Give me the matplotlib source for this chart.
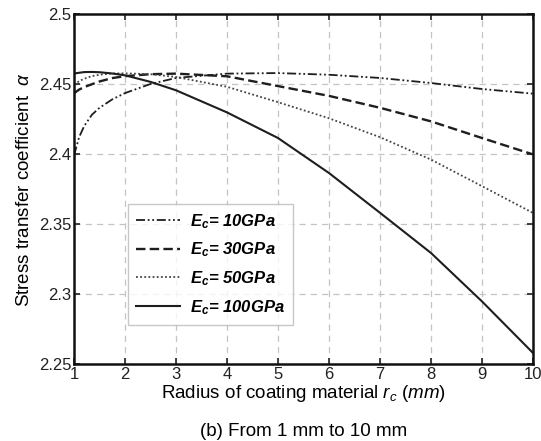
import matplotlib
matplotlib.use("Agg")
from matplotlib import pyplot as plt
from matplotlib.ticker import FormatStrFormatter

plt.rcParams['font.family'] = ['Liberation Sans', 'DejaVu Sans']
plt.rcParams['mathtext.fontset'] = 'custom'
plt.rcParams['mathtext.rm'] = 'Liberation Sans'
plt.rcParams['mathtext.it'] = 'Liberation Sans:italic'
plt.rcParams['mathtext.bf'] = 'Liberation Sans:bold:italic'

# Coating radius (mm) and stress transfer coefficient for each coating modulus
r_c = [1, 1.1, 1.2, 1.35, 1.5, 1.75, 2, 2.5, 3, 4, 5, 6, 7, 8, 9, 10]
alpha_10 = [2.399, 2.412, 2.420, 2.428, 2.433, 2.439, 2.4435, 2.450, 2.4543,
            2.4574, 2.4578, 2.4566, 2.4543, 2.4507, 2.4464, 2.4431]
alpha_30 = [2.4434, 2.446, 2.4478, 2.4498, 2.4518, 2.4542, 2.4556, 2.457,
            2.4574, 2.4555, 2.4485, 2.4415, 2.433, 2.4233, 2.4114, 2.3997]
alpha_50 = [2.4495, 2.452, 2.4538, 2.4556, 2.4566, 2.4575, 2.4576, 2.457,
            2.455, 2.448, 2.437, 2.4255, 2.412, 2.396, 2.377, 2.3579]
alpha_100 = [2.4575, 2.458, 2.4585, 2.4586, 2.4584, 2.4575, 2.4562, 2.4515,
             2.4455, 2.4297, 2.4114, 2.3864, 2.358, 2.3293, 2.2947, 2.2579]

labels = [r'$\mathbf{E_c}$= 10GPa', r'$\mathbf{E_c}$= 30GPa',
          r'$\mathbf{E_c}$= 50GPa', r'$\mathbf{E_c}$= 100GPa']

fig = plt.figure(figsize=(5.41, 4.41), dpi=100)
ax = fig.add_axes([0.1368, 0.1746, 0.8484, 0.7937])

ink = '#1e1e1e'
ax.plot(r_c, alpha_10, color=ink, lw=1.3, linestyle=(0, (5, 1.5, 1, 1.5, 1, 1.5)), label=labels[0])
ax.plot(r_c, alpha_30, color=ink, lw=1.7, linestyle=(0, (4, 1.8)), label=labels[1])
ax.plot(r_c, alpha_50, color='#444444', lw=1.3, linestyle=(0, (1, 1.3)), label=labels[2])
ax.plot(r_c, alpha_100, color=ink, lw=1.5, linestyle='-', label=labels[3])

ax.set_xlim(1, 10)
ax.set_ylim(2.25, 2.5)
ax.set_xticks(range(1, 11))
ax.set_yticks([2.25, 2.3, 2.35, 2.4, 2.45, 2.5])
ax.yaxis.set_major_formatter(FormatStrFormatter('%g'))
ax.tick_params(direction='in', top=True, right=True, length=4, width=1.2,
               labelsize=12, colors='#222222', pad=2)
for side in ax.spines.values():
    side.set_linewidth(1.8)
    side.set_color('#111111')

ax.grid(True, linestyle=(0, (5, 4)), color='#c4c4c4', lw=0.9)

ax.set_xlabel(r'Radius of coating material $r_c$ $\it{(mm)}$', fontsize=13.5, labelpad=1)
ax.set_ylabel(r'Stress transfer coefficient  $\alpha$', fontsize=13.5, labelpad=4)
fig.text(0.561, 0.021, '(b) From 1 mm to 10 mm', fontsize=13.5, ha='center', va='center')

leg = ax.legend(loc='lower left', bbox_to_anchor=(0.1176, 0.1114), borderaxespad=0,
                fancybox=False, handlelength=2.6, handletextpad=0.6, labelspacing=0.6,
                borderpad=0.5, prop={'weight': 'bold', 'style': 'italic', 'size': 12})
leg.get_frame().set_edgecolor('#bbbbbb')
leg.get_frame().set_linewidth(1.0)

plt.savefig('out.png', dpi=100)
